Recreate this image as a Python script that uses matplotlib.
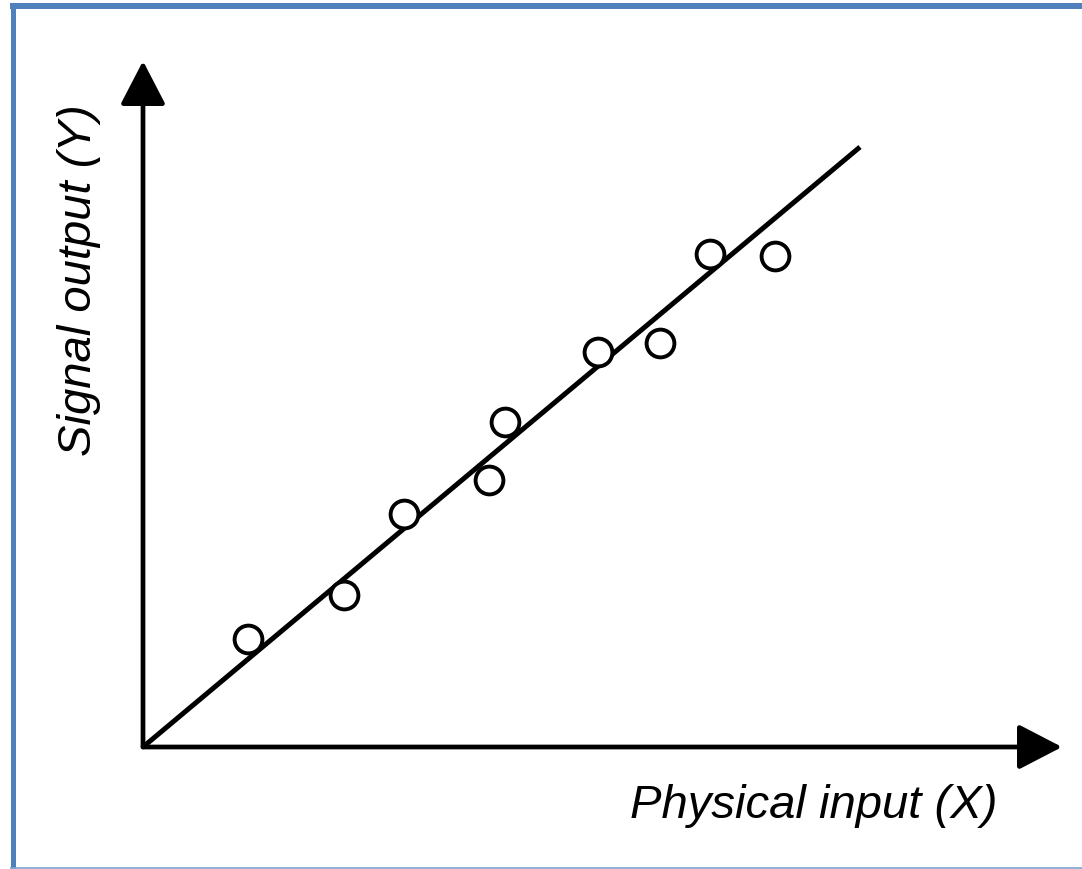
import matplotlib
matplotlib.use("Agg")
import matplotlib.pyplot as plt
from matplotlib.lines import Line2D

# Data (arbitrary units, origin at axis corner)
x_points = [1.46, 2.80, 3.64, 4.83, 5.05, 6.35, 7.21, 7.91, 8.81]
y_points = [1.80, 2.53, 3.88, 4.45, 5.42, 6.58, 6.73, 8.22, 8.18]
fit_x = [0.0, 10.0]
fit_y = [0.0, 10.0]
x_label = "Physical input (X)"
y_label = "Signal output (Y)"

W, H = 1082, 870
fig = plt.figure(figsize=(W / 100, H / 100), dpi=100)
fig.patch.set_facecolor("white")

ox, oy = 143, 748
x_tip, y_tip = 1062, 62
ax = fig.add_axes([ox / W, (H - oy) / H, (x_tip - ox) / W, (oy - y_tip) / H])
ax.set_xlim(0, (x_tip - ox) / 71.7)
ax.set_ylim(0, (oy - y_tip) / 60.0)
ax.set_axis_off()

# axes arrows
arrow_kw = dict(arrowstyle="-|>,head_length=2.7,head_width=1.4", mutation_scale=10,
                lw=3.4, color="black", shrinkA=0, shrinkB=0)
ax.annotate("", xy=(1, 0), xytext=(0, 0), xycoords="axes fraction",
            textcoords="axes fraction", arrowprops=arrow_kw, annotation_clip=False)
ax.annotate("", xy=(0, 1), xytext=(0, 0), xycoords="axes fraction",
            textcoords="axes fraction", arrowprops=arrow_kw, annotation_clip=False)

# fit line and data points
ax.plot(fit_x, fit_y, color="black", lw=3.6, solid_capstyle="butt", zorder=2)
ax.plot(x_points, y_points, linestyle="none", marker="o", markersize=20,
        markerfacecolor="white", markeredgecolor="black", markeredgewidth=2.8, zorder=3)

# labels
fig.text(814 / W, 1 - 818 / H, x_label, fontsize=34, style="italic",
         family=["Liberation Sans", "DejaVu Sans"], ha="center", va="baseline")
fig.text(79 / W, 1 - 280 / H, y_label, fontsize=34, style="italic", rotation=90,
         family=["Liberation Sans", "DejaVu Sans"], ha="center", va="center")

# blue frame (top, left, bottom)
bc = "#4f81bd"
fig.add_artist(Line2D([10 / W, 1.0], [1 - 7 / H, 1 - 7 / H], transform=fig.transFigure,
                      color=bc, lw=4.3, solid_capstyle="butt"))
fig.add_artist(Line2D([12.5 / W, 12.5 / W], [1 - 4 / H, 1 - 869 / H], transform=fig.transFigure,
                      color=bc, lw=3.6, solid_capstyle="butt"))
fig.add_artist(Line2D([10 / W, 1.0], [1 - 868.5 / H, 1 - 868.5 / H], transform=fig.transFigure,
                      color="#7fa2cf", lw=1.2, solid_capstyle="butt"))

fig.savefig("out.png", dpi=100)
